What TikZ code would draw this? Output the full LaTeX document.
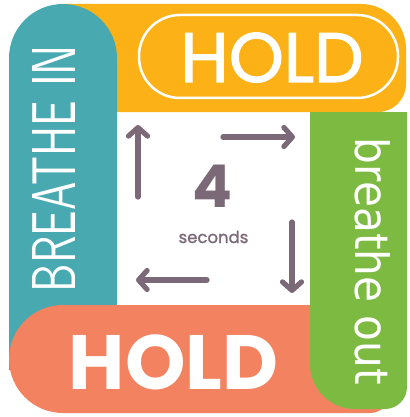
\documentclass[tikz,border=0pt]{standalone}
\usepackage{fontspec}
\usepackage{graphicx}
\usetikzlibrary{arrows.meta}
\newfontfamily\popfont{Poppins}
\newfontfamily\popmed{Poppins}[FakeBold=1.6]
\newfontfamily\popsemi{Poppins}[FakeBold=1.2]
\newfontfamily\outfont{DejaVu Sans}
\definecolor{tealc}{RGB}{72,170,176}
\definecolor{amberc}{RGB}{252,178,23}
\definecolor{greenc}{RGB}{125,186,66}
\definecolor{salmonc}{RGB}{243,131,96}
\definecolor{plumc}{RGB}{124,105,120}
\tikzset{
  cyclearrow/.style={draw=plumc, line width=5.2pt, line cap=round,
    -{Straight Barb[length=8.5pt,width=19pt,round]}},
  bigtext/.style={text=white, inner sep=0pt}
}
\begin{document}
\begin{tikzpicture}[x=1pt,y=1pt]
\useasboundingbox (0,0) rectangle (409,-417);
\fill[white] (0,0) rectangle (409,-417);
% amber top bar
\fill[amberc] (60,-4) -- (361,-4) arc(90:0:45) -- (406,-84) arc(0:-90:28) -- (60,-112) -- cycle;
% teal left bar
\fill[tealc] (9,-58) arc(180:0:54) -- (117,-370) -- (9,-370) -- cycle;
% salmon bottom bar
\fill[salmonc] (390,-305) -- (63,-305) arc(90:270:54) -- (370,-413) arc(-90:0:20) -- cycle;
% green right bar
\fill[greenc] (310,-112) -- (407,-112) -- (407,-387) arc(0:-90:22) -- (355,-409) arc(270:180:45) -- cycle;
% top HOLD outline
\draw[white, line width=2.5pt, rounded corners=41pt] (139,-15) rectangle (398,-98);
\node[bigtext, anchor=base] (holdtop) at (272,-82) {\fontsize{70}{70}\popmed\selectfont HOLD};
\node[bigtext, anchor=base] (holdbot) at (173.5,-389) {\fontsize{77}{77}\popfont\bfseries\selectfont HOLD};
% side texts
\node[bigtext, rotate=90] (inhale) at (53.5,-168.5) {\resizebox{247pt}{43pt}{\sffamily BREATHE IN}};
\node[bigtext, rotate=-90] (exhale) at (372.5,-261.5) {\resizebox{247pt}{35pt}{\outfont breathe out}};
% centre
\node[text=plumc, inner sep=0pt, anchor=base] (four) at (212.5,-207) {\fontsize{59}{59}\popfont\bfseries\selectfont 4};
\node[text=plumc, inner sep=0pt, anchor=base] (secs) at (213.5,-243) {\fontsize{16.5}{16.5}\popsemi\selectfont seconds};
% arrows
\coordinate (u1) at (138,-197); \coordinate (u2) at (138,-125);
\coordinate (r1) at (223,-137); \coordinate (r2) at (295,-137);
\coordinate (d1) at (292,-222); \coordinate (d2) at (292,-293);
\coordinate (l1) at (207,-280); \coordinate (l2) at (136,-280);
\draw[cyclearrow] (u1) -- (u2);
\draw[cyclearrow] (r1) -- (r2);
\draw[cyclearrow] (d1) -- (d2);
\draw[cyclearrow] (l1) -- (l2);
\end{tikzpicture}
\end{document}
